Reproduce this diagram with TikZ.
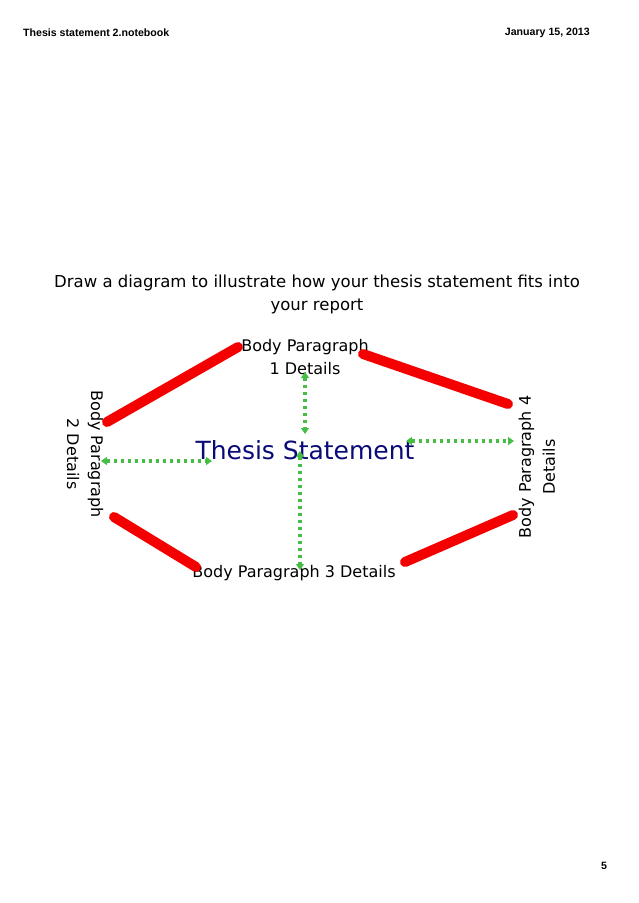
\documentclass[tikz,border=0pt]{standalone}
\usepackage{fontspec}
\setmainfont{DejaVu Sans}
\newfontfamily\headfont{Liberation Sans}
\usetikzlibrary{arrows.meta}
\definecolor{redline}{RGB}{245,0,0}
\definecolor{greenarrow}{RGB}{70,190,70}
\definecolor{thesisblue}{RGB}{10,10,120}
\tikzset{
  headtext/.style={font=\headfont\bfseries\fontsize{10.6}{12}\selectfont, inner sep=0pt},
  bodytext/.style={font=\fontsize{16}{23.5}\selectfont, inner sep=0pt, align=center},
  redstroke/.style={draw=redline, line width=10pt, line cap=round},
  greenarrowline/.style={draw=greenarrow, line width=3.5pt, dash pattern=on 3.5pt off 3.5pt,
     {Triangle[width=8pt,length=6pt]}-{Triangle[width=8pt,length=6pt]}}
}
\begin{document}
\begin{tikzpicture}[x=1pt,y=-1pt]
\useasboundingbox (0,0) rectangle (638,903);
\fill[white] (0,0) rectangle (638,903);
% header
\node[headtext, anchor=west] (hl) at (23,33) {Thesis statement 2.notebook};
\node[headtext, anchor=east] (hr) at (590,33) {January 15, 2013};
\node[headtext] (pg) at (604,866) {5};
% title
\node[bodytext, font=\fontsize{16.5}{23}\selectfont] (title) at (317,294) {Draw a diagram to illustrate how your thesis statement fits into\\your report};
% labels
\node[bodytext, font=\fontsize{16}{23}\selectfont] (bp1) at (305,357) {Body Paragraph\\1 Details};
\node[bodytext, font=\fontsize{25}{28}\selectfont, text=thesisblue] (ts) at (305,450) {Thesis Statement};
\node[bodytext] (bp3) at (294,573) {Body Paragraph 3 Details};
\node[bodytext, font=\fontsize{16}{24}\selectfont, rotate=-90] (bp2) at (85,454) {Body Paragraph\\2 Details};
\node[bodytext, font=\fontsize{16}{24}\selectfont, rotate=90] (bp4) at (537,467) {Body Paragraph 4\\Details};
% red strokes
\coordinate (r1a) at (107,422); \coordinate (r1b) at (238,347);
\coordinate (r2a) at (363,354); \coordinate (r2b) at (508,404);
\coordinate (r3a) at (114,517); \coordinate (r3b) at (196,567);
\coordinate (r4a) at (405,562); \coordinate (r4b) at (513,515);
\draw[redstroke] (r1a) -- (r1b);
\draw[redstroke] (r2a) -- (r2b);
\draw[redstroke] (r3a) -- (r3b);
\draw[redstroke] (r4a) -- (r4b);
% green arrows
\coordinate (g1a) at (305,372); \coordinate (g1b) at (305,434);
\coordinate (g2a) at (101,461); \coordinate (g2b) at (212,461);
\coordinate (g3a) at (406,441); \coordinate (g3b) at (514,441);
\coordinate (g4a) at (300,451); \coordinate (g4b) at (300,570);
\draw[greenarrowline] (g1a) -- (g1b);
\draw[greenarrowline] (g2a) -- (g2b);
\draw[greenarrowline] (g3a) -- (g3b);
\draw[greenarrowline] (g4a) -- (g4b);
\end{tikzpicture}
\end{document}
